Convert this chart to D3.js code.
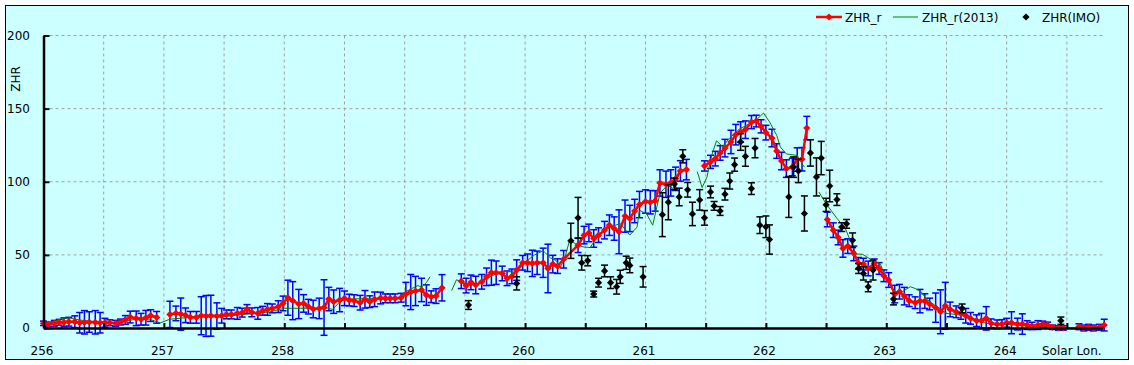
<!DOCTYPE html>
<html>
<head>
<meta charset="utf-8">
<script src="https://cdn.jsdelivr.net/npm/d3@7"></script>
<style>
body { margin: 0; background: #fff; }
svg text { font-family: "DejaVu Sans", sans-serif; font-size: 12px; fill: #000; }
</style>
</head>
<body>
<div id="chart"></div>
<script>
// ZHR_r : hourly values, null = gap in the series
var redLon = [
  256.00, 256.04, 256.09, 256.13, 256.17, 256.21, 256.26, 256.30, 256.34, 256.38, 256.43, 256.47,
  256.51, 256.55, 256.60, 256.64, 256.68, 256.72, 256.77, 256.81, 256.85, 256.89, 256.94,
  257.00,
  257.05, 257.10, 257.14, 257.18, 257.22, 257.27, 257.31, 257.35, 257.39, 257.44, 257.48, 257.52,
  257.56, 257.61, 257.65, 257.69, 257.73, 257.78, 257.82, 257.86, 257.90, 257.95, 257.99, 258.03,
  258.07, 258.12, 258.16, 258.20, 258.24, 258.29, 258.33, 258.37, 258.41, 258.46, 258.50, 258.54,
  258.58, 258.63, 258.67, 258.71, 258.75, 258.80, 258.84, 258.88, 258.92, 258.97, 259.01, 259.05,
  259.09, 259.14, 259.18, 259.22, 259.26, 259.31,
  259.39,
  259.47, 259.51, 259.55, 259.59, 259.64, 259.68, 259.72, 259.76, 259.81, 259.85, 259.89, 259.93,
  259.98, 260.02, 260.06, 260.10, 260.15, 260.19, 260.23, 260.27, 260.32,
  260.44, 260.49, 260.53, 260.57, 260.61, 260.66, 260.70, 260.74, 260.78, 260.83, 260.87, 260.91,
  260.95, 261.00, 261.04, 261.08, 261.12, 261.17, 261.21, 261.25, 261.29, 261.34,
  261.42,
  261.49, 261.54, 261.58, 261.62, 261.66, 261.71, 261.75, 261.79, 261.83, 261.88, 261.92, 261.96,
  262.00, 262.05, 262.09, 262.13, 262.17, 262.22, 262.26, 262.30, 262.34,
  262.43,
  262.51, 262.56, 262.60, 262.64, 262.68, 262.73, 262.77, 262.81, 262.85, 262.90, 262.94, 262.98,
  263.02, 263.07, 263.11, 263.15, 263.19, 263.24, 263.28, 263.32, 263.36, 263.41, 263.45, 263.49,
  263.53, 263.58, 263.62, 263.66, 263.70, 263.75, 263.79, 263.83, 263.87, 263.92, 263.96, 264.00,
  264.04, 264.09, 264.13, 264.17, 264.21, 264.26, 264.30, 264.34, 264.38, 264.43, 264.47,
  264.53,
  264.60, 264.64, 264.68, 264.72, 264.77, 264.81
];
var redZhr = [
  3.2, 2.5, 3.2, 3.9, 3.9, 4.3, 4.3, 3.6, 3.9, 4.1, 3.9, 3.6,
  3.6, 3.6, 3.2, 4.1, 5.5, 7.5, 6.6, 6.0, 7.0, 8.5, 7.3,
  null,
  9.3, 10, 9.5, 8.7, 7.3, 7.3, 8.4, 8.2, 8.4, 8.2, 8.4, 9.3,
  9.3, 10, 10.5, 13, 10.7, 10, 11.8, 12.7, 13.4, 14.6, 16.8, 20.7,
  18.7, 16.4, 16.8, 14.6, 13, 13.4, 14, 19.8, 18, 19.1, 20.3, 19.1,
  18.7, 17.3, 19.6, 18, 19.6, 20.5, 20.3, 20.3, 20.3, 20.7, 23.2, 24.6,
  25.3, 26, 22.5, 21.4, 21.8, 27.5,
  null,
  32, 29, 31.2, 29.4, 31.6, 35, 37.8, 37.8, 37.3, 34, 35.3, 39.6,
  44.6, 44.6, 44.2, 44.6, 44.6, 40.7, 43.7, 42.3, 47,
  56.6, 63.5, 65, 61.2, 63.5, 66.9, 70.3, 68, 65.8, 76.5, 74.9, 80,
  84.4, 86.5, 86, 86.9, 99.2, 98.3, 99.2, 102, 107.4, 108.3,
  null,
  110.8, 113.6, 115.8, 119.7, 123, 127.2, 132.2, 134, 135.6, 140.8, 141.5, 137.9,
  133.6, 129.9, 121, 114.2, 109, 110.1, 115.2, 115.4, 136.7,
  null,
  74.2, 66.9, 61.9, 54.4, 56, 51, 44.2, 43.7, 40.7, 44.2, 40.7, 35.7,
  32.8, 23.2, 24.8, 21.8, 18.7, 17.3, 18.4, 18.4, 16.4, 13.9, 11.1, 15.2,
  12.7, 11.1, 10, 8.4, 6.6, 5, 5, 6.6, 3.2, 2.5, 2.7, 3.6,
  3.6, 2.7, 2.7, 2, 1.4, 2, 2.7, 2, 0.5, 0, 0,
  null,
  0.9, 0, 0.5, 0, 0.5, 2
];
var redErr = [
  1.5, 1.5, 2, 2, 3, 3, 4, 7, 8, 7, 8, 7,
  3, 2, 2, 2, 3, 4, 5, 4, 5, 4, 4,
  null,
  9, 5, 11, 5, 4, 4, 13, 14, 14, 9, 5, 3,
  3, 4, 3, 3, 3, 4, 3, 4, 3, 4, 5, 12,
  13, 10, 6, 5, 6, 7, 19, 8, 8, 8, 5, 4,
  4, 5, 6, 4, 5, 4, 3, 3, 3, 3, 8, 12,
  10, 8, 7, 4, 5, 9,
  null,
  5, 5, 5, 6, 5, 6, 8.6, 8, 5, 5, 5, 7,
  5, 6, 9, 8, 10, 16.6, 6, 5, 6,
  5, 6, 6, 6, 5, 6, 7, 8, 15, 11, 9, 8,
  9, 8, 8, 7, 9, 9, 9, 8, 7, 7,
  null,
  3.5, 4.5, 5, 5, 6, 8, 7, 7, 6, 4.5, 4, 4.5,
  5, 6, 5, 6, 6, 6, 8, 8, 8,
  null,
  5, 5, 5, 6, 5, 5, 4, 4, 5, 3, 4, 4,
  5, 6, 5, 6, 4, 4, 8, 5, 4, 10, 15, 16,
  5, 4, 4, 5, 4, 4, 5, 8, 3, 3, 3, 3,
  7.5, 4, 7, 3, 2.5, 3, 2, 2, 1.5, 1.5, 1.5,
  null,
  2, 2, 2, 2, 2, 4
];

// ZHR_r(2013)
var greenLon = [
  256.00, 256.10, 256.16, 256.22, 256.30, 256.39, 256.47, 256.59, 256.68, 256.76, 256.88, 256.97,
  257.05, 257.18, 257.30, 257.47, 257.63, 257.76, 257.88, 258.00, 258.13, 258.28, 258.34, 258.40,
  258.45, 258.50, 258.63, 258.79, 258.96, 258.99, 259.06, 259.11, 259.14, 259.18, 259.21,
  259.30,
  259.39, 259.43, 259.48, 259.54, 259.63, 259.71, 259.79, 259.87, 259.93, 260.00, 260.08, 260.15,
  260.21, 260.26, 260.29, 260.33, 260.37, 260.43, 260.48, 260.54, 260.62, 260.71, 260.79, 260.87,
  260.93, 260.95, 261.01, 261.06, 261.12, 261.18, 261.23, 261.29,
  261.36,
  261.43, 261.47, 261.51, 261.55, 261.59, 261.64, 261.70, 261.78, 261.87, 261.93, 261.98, 262.03,
  262.09, 262.12, 262.17, 262.26, 262.30, 262.32,
  262.38,
  262.44, 262.50, 262.59, 262.66, 262.70, 262.75, 262.80, 262.85, 262.89, 262.95, 263.00, 263.06,
  263.11, 263.20, 263.24, 263.29, 263.33, 263.42, 263.50, 263.61, 263.72, 263.83, 264.00, 264.17,
  264.33, 264.50, 264.65, 264.80
];
var greenZhr = [
  3, 5, 6.6, 6.8, 5.5, 4.5, 4, 3.5, 4.5, 6, 6, 3.5,
  6, 7, 8, 7.5, 9, 10, 11, 13.5, 13.5, 13.5, 14, 12.7,
  16.8, 19.6, 20, 20, 20, 24, 27, 29, 28, 31, 35,
  null,
  25.5, 33, 31, 29, 31, 35, 38.5, 38.5, 38, 45, 50, 52.8,
  48, 46, 41, 48, 60, 57, 55.5, 55, 64.6, 69, 71.5, 63.5,
  69, 80.5, 78, 70.3, 92, 97.6, 95.3, 106.7,
  null,
  107, 96, 103, 118, 128, 124, 130, 136, 140, 143, 147, 141,
  131.7, 123.8, 119, 118, 112.4, 110,
  null,
  93, 85, 75, 68, 60, 50.5, 50.5, 48, 46.4, 44, 32.8, 26,
  23.7, 28.2, 27, 24.8, 20, 14.5, 10, 8.9, 6.6, 3.2, 2.5, 1.4,
  1.4, 0, 0, 1.4
];

// ZHR(IMO)
var imoLon = [
  259.53, 259.93, 260.38, 260.44, 260.47, 260.52, 260.57, 260.61, 260.66, 260.71, 260.76, 260.79,
  260.84, 260.87, 260.98, 261.14, 261.19, 261.24, 261.28, 261.31, 261.35, 261.39, 261.45, 261.49,
  261.54, 261.57, 261.62, 261.66, 261.70, 261.74, 261.79, 261.83, 261.88, 261.91, 261.95, 262.00,
  262.03, 262.19, 262.23, 262.27, 262.32, 262.37, 262.42, 262.46, 262.50, 262.53, 262.59, 262.63,
  262.67, 262.72, 262.77, 262.81, 262.85, 262.89, 263.06, 263.63, 264.45
];
var imoZhr = [
  15.7, 30.5, 59.6, 75.3, 44.6, 46, 23.2, 31, 39, 31, 28.2, 35,
  44.6, 42.8, 35, 77.5, 86, 98.5, 89.6, 117.4, 94.5, 78, 87.6, 75.3,
  93, 83.5, 80, 91.5, 100.5, 111.7, 127.2, 117.4, 95.3, 123, 70.3, 69.2,
  60.5, 89.6, 110, 107.4, 78.3, 119.7, 103.3, 116.2, 84.2, 97.1, 87.8, 69,
  71.2, 60, 40.7, 37.3, 28.2, 39.6, 19.8, 13.4, 5
];
var imoErr = [
  3, 4.5, 12, 14, 5, 3.5, 2, 3, 4, 4, 5, 4.5,
  4.5, 5, 7, 15, 12, 4, 6, 4.5, 5, 8, 7, 5,
  4, 3, 3, 4, 5.5, 4.5, 5.7, 6.8, 4, 6.6, 5.7, 7.4,
  10, 14, 7, 8, 12, 9, 13, 11.4, 4.5, 10.8, 4, 3,
  3, 5, 3.4, 4.5, 3.4, 6.8, 4, 3, 2.5
];

var xTicks = [256, 256.5, 257, 257.5, 258, 258.5, 259, 259.5, 260, 260.5, 261, 261.5, 262, 262.5, 263, 263.5, 264, 264.5];
var xLabels = ["256", "257", "258", "259", "260", "261", "262", "263", "264"];
var yTicks = [0, 50, 100, 150, 200];

var w = 1134, h = 365;
var plotL = 43.5, plotR = 1103, plotT = 35.5, plotB = 328;

var svg = d3.select("#chart").append("svg")
  .attr("width", w)
  .attr("height", h);

svg.append("rect")
  .attr("x", 5.5).attr("y", 5.5)
  .attr("width", 1123).attr("height", 354)
  .attr("fill", "#ccffff")
  .attr("stroke", "#000")
  .attr("stroke-width", 1);

var x = d3.scaleLinear().domain([256, 264.8]).range([plotL, plotR]);
var y = d3.scaleLinear().domain([0, 200]).range([plotB, plotT]);

// grid
svg.append("g").selectAll("line")
  .data(xTicks.slice(1))
  .enter().append("line")
  .attr("x1", function(d) { return x(d); })
  .attr("x2", function(d) { return x(d); })
  .attr("y1", plotT).attr("y2", plotB)
  .attr("stroke", "#a0a0a0")
  .attr("stroke-dasharray", "3,3");

svg.append("g").selectAll("line")
  .data(yTicks.slice(1))
  .enter().append("line")
  .attr("x1", plotL).attr("x2", plotR)
  .attr("y1", function(d) { return y(d); })
  .attr("y2", function(d) { return y(d); })
  .attr("stroke", "#a0a0a0")
  .attr("stroke-dasharray", "3,3");

// build rows
var red = redLon.map(function(d, i) { return { lon: d, zhr: redZhr[i], err: redErr[i] }; });
var green = greenLon.map(function(d, i) { return { lon: d, zhr: greenZhr[i] }; });
var imo = imoLon.map(function(d, i) { return { lon: d, zhr: imoZhr[i], err: imoErr[i] }; });
var redPts = red.filter(function(d) { return d.zhr !== null; });

function errorBars(g, rows, color, cap) {
  var eb = g.selectAll("g").data(rows).enter().append("g");
  eb.append("line")
    .attr("x1", function(d) { return x(d.lon); })
    .attr("x2", function(d) { return x(d.lon); })
    .attr("y1", function(d) { return y(d.zhr - d.err); })
    .attr("y2", function(d) { return y(d.zhr + d.err); });
  eb.append("line")
    .attr("x1", function(d) { return x(d.lon) - cap; })
    .attr("x2", function(d) { return x(d.lon) + cap; })
    .attr("y1", function(d) { return y(d.zhr + d.err); })
    .attr("y2", function(d) { return y(d.zhr + d.err); });
  eb.append("line")
    .attr("x1", function(d) { return x(d.lon) - cap; })
    .attr("x2", function(d) { return x(d.lon) + cap; })
    .attr("y1", function(d) { return y(d.zhr - d.err); })
    .attr("y2", function(d) { return y(d.zhr - d.err); });
  g.selectAll("line").attr("stroke", color).attr("stroke-width", 1.5);
}

errorBars(svg.append("g"), redPts, "#0000ff", 3.5);

var line = d3.line()
  .defined(function(d) { return d.zhr !== null; })
  .x(function(d) { return x(d.lon); })
  .y(function(d) { return y(d.zhr); });

svg.append("path")
  .datum(green)
  .attr("d", line)
  .attr("fill", "none")
  .attr("stroke", "#008000")
  .attr("stroke-width", 1);

svg.append("path")
  .datum(red)
  .attr("d", line)
  .attr("fill", "none")
  .attr("stroke", "#ff0000")
  .attr("stroke-width", 2.5);

var diamond = d3.symbol().type(d3.symbolSquare).size(26);

svg.append("g").selectAll("path")
  .data(redPts)
  .enter().append("path")
  .attr("d", diamond)
  .attr("transform", function(d) { return "translate(" + x(d.lon) + "," + y(d.zhr) + ")rotate(45)"; })
  .attr("fill", "#ff0000");

errorBars(svg.append("g"), imo, "#000", 3.5);

svg.append("g").selectAll("path")
  .data(imo)
  .enter().append("path")
  .attr("d", diamond)
  .attr("transform", function(d) { return "translate(" + x(d.lon) + "," + y(d.zhr) + ")rotate(45)"; })
  .attr("fill", "#000");

// axes on top
var xAxis = d3.axisBottom(x)
  .tickValues(xTicks)
  .tickSize(-5)
  .tickSizeOuter(0)
  .tickPadding(18)
  .tickFormat(function(d) { return d % 1 === 0 ? xLabels[d - 256] : ""; });

var gx = svg.append("g")
  .attr("transform", "translate(0," + plotB + ")")
  .call(xAxis);
gx.select(".domain").attr("stroke", "#000").attr("stroke-width", 2.5);
gx.selectAll(".tick line").attr("stroke", "#000").attr("stroke-width", 2);
gx.selectAll(".tick text").attr("dx", -2).style("font-size", "12px").style("font-family", "DejaVu Sans");

var yAxis = d3.axisLeft(y)
  .tickValues(yTicks)
  .tickSize(-6)
  .tickSizeOuter(0)
  .tickPadding(13.5);

var gy = svg.append("g")
  .attr("transform", "translate(" + plotL + ",0)")
  .call(yAxis);
gy.select(".domain").attr("stroke", "#000").attr("stroke-width", 2.5);
gy.selectAll(".tick line").attr("stroke", "#000").attr("stroke-width", 2);
gy.selectAll(".tick text").style("font-size", "12px").style("font-family", "DejaVu Sans");

svg.append("text")
  .attr("x", 1042).attr("y", 355)
  .text("Solar Lon.");

svg.append("text")
  .attr("transform", "translate(20,79)rotate(-90)")
  .attr("text-anchor", "middle")
  .text("ZHR");

// legend
var lg = svg.append("g");
lg.append("line").attr("x1", 816).attr("x2", 842).attr("y1", 17).attr("y2", 17)
  .attr("stroke", "#ff0000").attr("stroke-width", 2.5);
lg.append("path").attr("d", diamond).attr("transform", "translate(829,17)rotate(45)").attr("fill", "#ff0000");
lg.append("text").attr("x", 845).attr("y", 22).text("ZHR_r");
lg.append("line").attr("x1", 893).attr("x2", 918).attr("y1", 17).attr("y2", 17)
  .attr("stroke", "#008000").attr("stroke-width", 1);
lg.append("text").attr("x", 922).attr("y", 22).text("ZHR_r(2013)");
lg.append("path").attr("d", diamond).attr("transform", "translate(1026,17)rotate(45)").attr("fill", "#000");
lg.append("text").attr("x", 1042).attr("y", 22).text("ZHR(IMO)");
</script>
</body>
</html>
